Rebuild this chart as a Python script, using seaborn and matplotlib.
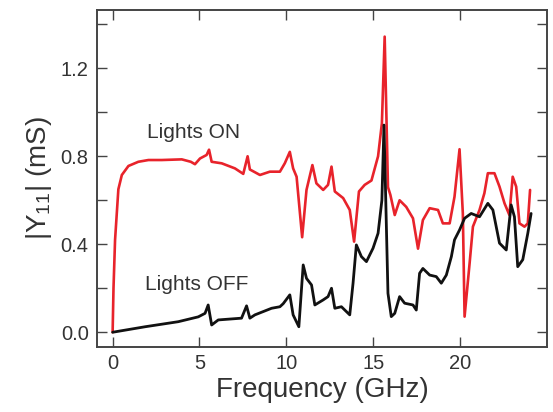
import matplotlib
matplotlib.use("Agg")
import matplotlib.pyplot as plt
from matplotlib.ticker import MultipleLocator
import seaborn as sns
import pandas as pd

# Lights ON (red)
freq_on = [0.0, 0.05, 0.14, 0.33, 0.53, 0.91, 1.48, 2.06, 2.83, 3.98, 4.5, 4.74, 5.03, 5.41, 5.55,
           5.70, 6.28, 7.04, 7.52, 7.77, 7.90, 8.48, 9.05, 9.63, 9.91, 10.2, 10.39, 10.59, 10.91,
           11.16, 11.5, 11.73, 12.12, 12.4, 12.6, 12.79, 13.27, 13.65, 13.9, 14.18, 14.51, 14.9,
           15.28, 15.5, 15.66, 15.85, 15.99, 16.24, 16.52, 16.9, 17.29, 17.58, 17.86, 18.25, 18.73,
           19.01, 19.4, 19.68, 19.97, 20.16, 20.26, 20.55, 20.74, 21.12, 21.4, 21.6, 21.98, 22.27,
           22.56, 22.84, 23.03, 23.23, 23.42, 23.71, 23.9, 24.03]
y_on = [0.0, 0.2, 0.42, 0.65, 0.715, 0.756, 0.775, 0.783, 0.783, 0.786, 0.775, 0.764, 0.79, 0.806, 0.83,
        0.775, 0.768, 0.745, 0.72, 0.80, 0.74, 0.715, 0.73, 0.73, 0.768, 0.82, 0.745, 0.707, 0.432,
        0.647, 0.76, 0.677, 0.647, 0.67, 0.753, 0.64, 0.61, 0.556, 0.412, 0.64, 0.67, 0.69,
        0.80, 0.95, 1.344, 0.66, 0.624, 0.533, 0.60, 0.57, 0.518, 0.38, 0.51, 0.564, 0.556,
        0.495, 0.495, 0.616, 0.832, 0.54, 0.071, 0.314, 0.48, 0.556, 0.632, 0.723, 0.723, 0.662,
        0.586, 0.533, 0.707, 0.662, 0.495, 0.48, 0.495, 0.647]

# Lights OFF (black)
freq_off = [0.0, 1.87, 3.78, 4.93, 5.32, 5.5, 5.70, 6.08, 7.42, 7.71, 7.9, 8.19, 9.15, 9.63, 9.82,
            10.2, 10.39, 10.72, 10.97, 11.16, 11.45, 11.64, 12.12, 12.4, 12.6, 12.79, 13.17, 13.65,
            13.84, 14.03, 14.32, 14.61, 14.99, 15.28, 15.5, 15.62, 15.85, 16.04, 16.24, 16.52, 16.81,
            17.29, 17.48, 17.67, 17.86, 18.25, 18.63, 18.92, 19.21, 19.5, 19.68, 19.97, 20.26, 20.64,
            21.12, 21.6, 21.89, 22.27, 22.66, 22.94, 23.13, 23.32, 23.61, 23.9, 24.09]
y_off = [0.0, 0.025, 0.048, 0.07, 0.086, 0.124, 0.033, 0.056, 0.064, 0.12, 0.064, 0.079, 0.109, 0.116, 0.13,
         0.17, 0.079, 0.025, 0.306, 0.245, 0.215, 0.124, 0.147, 0.162, 0.20, 0.109, 0.116, 0.079,
         0.223, 0.397, 0.344, 0.321, 0.382, 0.45, 0.60, 0.942, 0.177, 0.071, 0.086, 0.162, 0.132,
         0.124, 0.101, 0.268, 0.29, 0.26, 0.253, 0.223, 0.26, 0.344, 0.42, 0.465, 0.518, 0.54,
         0.525, 0.586, 0.556, 0.405, 0.374, 0.579, 0.525, 0.298, 0.33, 0.45, 0.54]

x_ticks = [0, 5, 10, 15, 20]
y_ticks = [0.0, 0.4, 0.8, 1.2]
label_on = "Lights ON"
label_off = "Lights OFF"

sns.set_style("ticks")
plt.rcParams['font.family'] = ['Liberation Sans', 'DejaVu Sans']
plt.rcParams['mathtext.fontset'] = 'custom'
plt.rcParams['mathtext.rm'] = 'Liberation Sans'
plt.rcParams['mathtext.it'] = 'Liberation Sans:italic'

df_on = pd.DataFrame({"f": freq_on, "y": y_on})
df_off = pd.DataFrame({"f": freq_off, "y": y_off})

fig = plt.figure(figsize=(5.53, 4.12), dpi=100)
ax = fig.add_axes([0.1754, 0.1578, 0.8136, 0.8179])

sns.lineplot(data=df_on, x="f", y="y", ax=ax, color="#e8232b", linewidth=1.9,
             estimator=None, sort=False)
sns.lineplot(data=df_off, x="f", y="y", ax=ax, color="#111111", linewidth=2.0,
             estimator=None, sort=False)

ax.set_xlim(-0.9, 25.0)
ax.set_ylim(-0.067, 1.465)
ax.set_xticks(x_ticks)
ax.set_xticklabels([str(t) for t in x_ticks])
ax.set_yticks(y_ticks)
ax.set_yticklabels([f"{t:.1f}" for t in y_ticks])
ax.yaxis.set_minor_locator(MultipleLocator(0.2))

tick_col = "#444444"
ax.tick_params(axis="both", which="both", direction="in", length=7, width=1.0,
               color=tick_col, labelsize=14.5, labelcolor="#333333",
               top=True, right=True)
ax.tick_params(axis="x", which="minor", top=False, bottom=False)
ax.tick_params(axis="x", pad=5)
ax.tick_params(axis="y", pad=6)
for s in ax.spines.values():
    s.set_visible(True)
    s.set_color(tick_col)
    s.set_linewidth(1.4)

ax.set_xlabel("Frequency (GHz)", fontsize=20, color="#333333", labelpad=3)
ax.set_ylabel(r"|Y$_{\mathrm{11}}$| (mS)", fontsize=20, color="#333333", labelpad=5)

ax.text(4.68, 0.906, label_on, fontsize=15, color="#333333", ha="center", va="center")
ax.text(4.83, 0.215, label_off, fontsize=15, color="#333333", ha="center", va="center")

fig.savefig("out.png", dpi=100)
